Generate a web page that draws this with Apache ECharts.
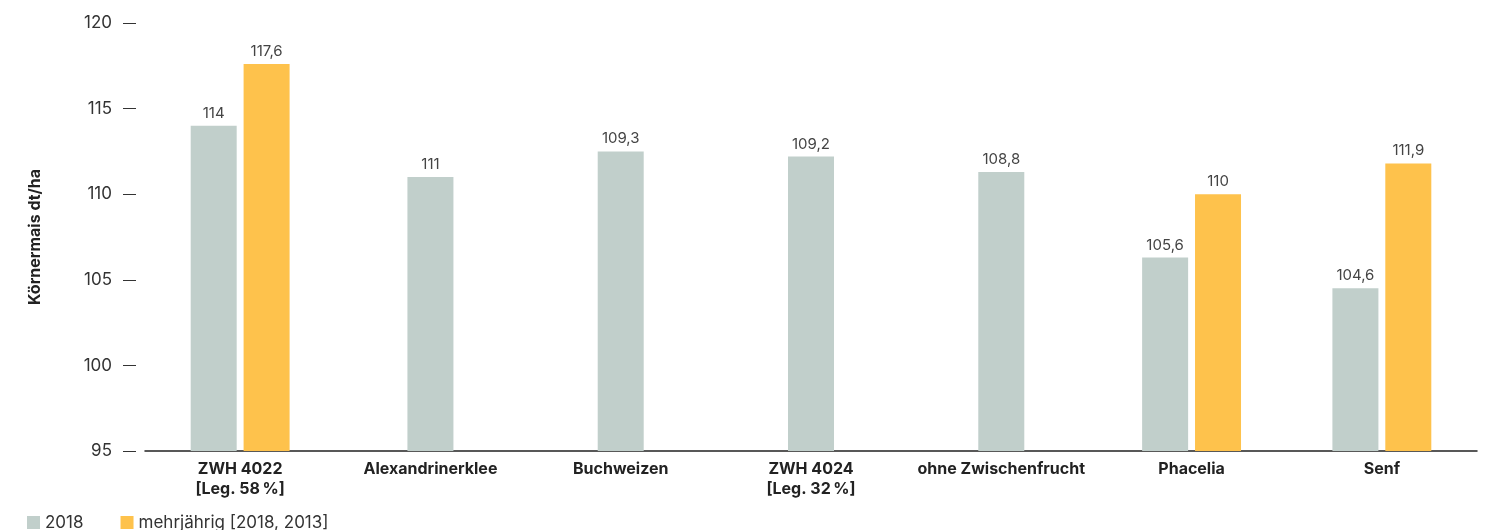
<!DOCTYPE html>
<html>
<head>
<meta charset="utf-8">
<script src="https://cdn.jsdelivr.net/npm/echarts@6/dist/echarts.min.js"></script>
<style>
  html, body { margin: 0; padding: 0; background: #fff; }
  #chart { width: 1487px; height: 530px; }
</style>
</head>
<body>
<div id="chart"></div>
<script>
var categories = ['ZWH 4022\n[Leg. 58\u2009%]', 'Alexandrinerklee', 'Buchweizen', 'ZWH 4024\n[Leg. 32\u2009%]', 'ohne Zwischenfrucht', 'Phacelia', 'Senf'];

// bar heights as drawn in the picture
var yield2018 = [114, 111, 112.5, 112.2, 111.3, 106.3, 104.5];
var yieldMehr = [117.6, null, null, null, null, 110, 111.8];

// printed value labels
var label2018 = ['114', '111', '109,3', '109,2', '108,8', '105,6', '104,6'];
var labelMehr = ['117,6', '', '', '', '', '110', '111,9'];

var yTicks = [95, 100, 105, 110, 115, 120];

var name2018 = '2018';
var nameMehr = 'mehrjährig [2018, 2013]';

var grey = '#c1cfcb';
var orange = '#fec24c';
var font = 'Inter, "Noto Sans", sans-serif';

// 2018 bars next to a mehrjährig bar vs. alone (centered)
var pair2018 = yield2018.map(function (v, i) { return yieldMehr[i] != null ? v : null; });
var single2018 = yield2018.map(function (v, i) { return yieldMehr[i] == null ? v : null; });

var chart = echarts.init(document.getElementById('chart'));

function valueLabel(labels) {
  return {
    show: true,
    position: 'top',
    distance: 5,
    color: '#444',
    fontFamily: font,
    fontSize: 15,
    formatter: function (p) { return labels[p.dataIndex]; }
  };
}

var option = {
  animation: false,
  grid: {
    left: 145,
    right: 10,
    top: 23,
    bottom: 79
  },
  legend: {
    left: 22,
    top: 509,
    itemWidth: 13,
    itemHeight: 13,
    itemGap: 37,
    icon: 'rect',
    data: [name2018, nameMehr],
    textStyle: {
      color: '#333',
      fontFamily: font,
      fontSize: 17
    }
  },
  xAxis: [
    {
      type: 'category',
      data: categories,
      axisLine: { lineStyle: { color: '#222', width: 1.5 } },
      axisTick: { show: false },
      axisLabel: {
        interval: 0,
        color: '#222',
        fontFamily: font,
        fontWeight: 'bold',
        fontSize: 16,
        lineHeight: 20,
        margin: 8
      }
    },
    {
      type: 'category',
      data: categories,
      show: false
    }
  ],
  yAxis: {
    type: 'value',
    min: yTicks[0],
    max: yTicks[yTicks.length - 1],
    interval: 5,
    offset: 22,
    name: 'Körnermais dt/ha',
    nameLocation: 'middle',
    nameRotate: 90,
    nameGap: 80,
    nameTextStyle: {
      color: '#222',
      fontFamily: font,
      fontWeight: 'bold',
      fontSize: 16
    },
    axisLine: { show: false },
    axisTick: {
      show: true,
      inside: true,
      length: 13,
      lineStyle: { color: '#333' }
    },
    splitLine: { show: false },
    axisLabel: {
      color: '#333',
      fontFamily: font,
      fontSize: 17,
      margin: 11
    }
  },
  series: [
    {
      name: name2018,
      type: 'bar',
      xAxisIndex: 0,
      data: pair2018,
      barWidth: 46,
      barGap: '15%',
      itemStyle: { color: grey },
      label: valueLabel(label2018)
    },
    {
      name: nameMehr,
      type: 'bar',
      xAxisIndex: 0,
      data: yieldMehr,
      barWidth: 46,
      barGap: '15%',
      itemStyle: { color: orange },
      label: valueLabel(labelMehr)
    },
    {
      name: name2018,
      type: 'bar',
      xAxisIndex: 1,
      data: single2018,
      barWidth: 46,
      itemStyle: { color: grey },
      label: valueLabel(label2018)
    }
  ]
};

chart.setOption(option);
</script>
</body>
</html>
